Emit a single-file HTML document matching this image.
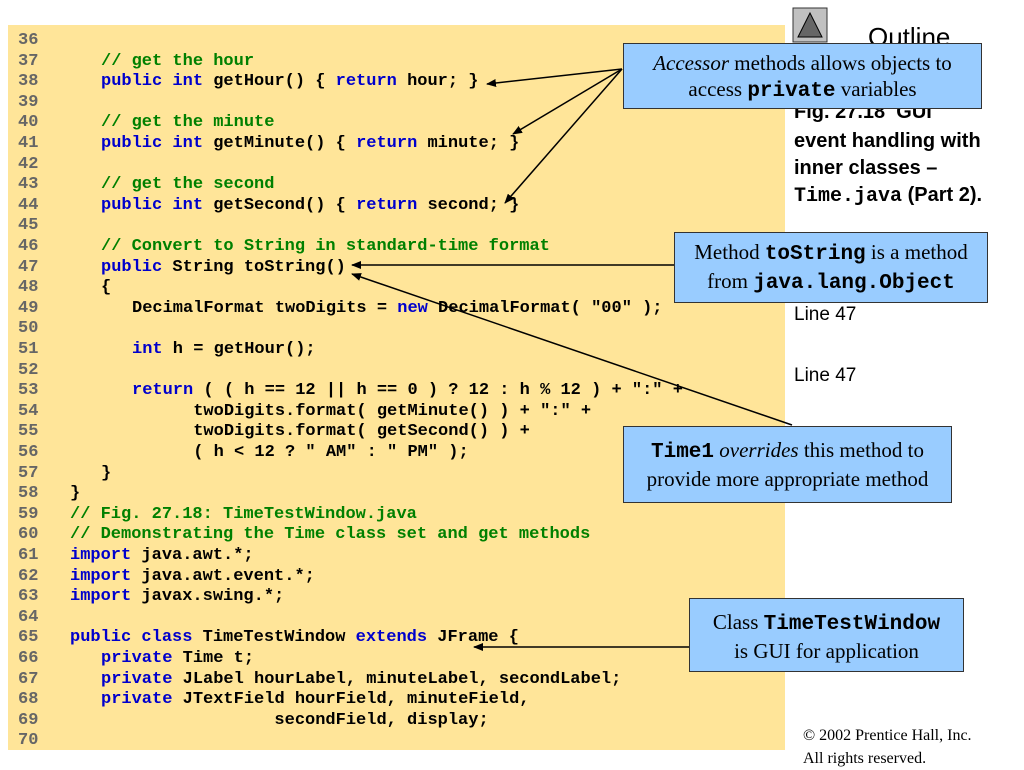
<!DOCTYPE html>
<html><head><meta charset="utf-8"><style>
body{margin:0;width:1024px;height:768px;background:#fff;position:relative;overflow:hidden;font-family:"Liberation Sans",sans-serif}
#panel{position:absolute;left:8px;top:25px;width:777px;height:725px;background:#FFE599}
.l{position:absolute;left:18px;font:bold 17px/20px "Liberation Mono",monospace;white-space:pre;color:#000}
.n{color:#666;position:absolute;left:0}
.c{color:#008000}.k{color:#0000CC}
.box{position:absolute;background:#99CCFF;border:1.5px solid #333;font:21px/26px "Liberation Serif",serif;text-align:center;box-sizing:border-box;padding-top:6px}
.box b{font-family:"Liberation Mono",monospace}
.side{position:absolute;left:794px;font:bold 20px/27px "Liberation Sans",sans-serif}
</style></head><body>
<div id="panel"></div>
<div id="code"></div>
<script>
var L=[
["36",0,""],["37",1,'<span class=c>// get the hour</span>'],
["38",1,'<span class=k>public int</span> getHour() { <span class=k>return</span> hour; }'],
["39",0,""],["40",1,'<span class=c>// get the minute</span>'],
["41",1,'<span class=k>public int</span> getMinute() { <span class=k>return</span> minute; }'],
["42",0,""],["43",1,'<span class=c>// get the second</span>'],
["44",1,'<span class=k>public int</span> getSecond() { <span class=k>return</span> second; }'],
["45",0,""],["46",1,'<span class=c>// Convert to String in standard-time format</span>'],
["47",1,'<span class=k>public</span> String toString()'],["48",1,'{'],
["49",2,'DecimalFormat twoDigits = <span class=k>new</span> DecimalFormat( "00" );'],
["50",0,""],["51",2,'<span class=k>int</span> h = getHour();'],["52",0,""],
["53",2,'<span class=k>return</span> ( ( h == 12 || h == 0 ) ? 12 : h % 12 ) + ":" +'],
["54",2,'      twoDigits.format( getMinute() ) + ":" +'],
["55",2,'      twoDigits.format( getSecond() ) +'],
["56",2,'      ( h &lt; 12 ? " AM" : " PM" );'],
["57",1,'}'],["58",0,'}'],
["59",0,'<span class=c>// Fig. 27.18: TimeTestWindow.java</span>'],
["60",0,'<span class=c>// Demonstrating the Time class set and get methods</span>'],
["61",0,'<span class=k>import</span> java.awt.*;'],["62",0,'<span class=k>import</span> java.awt.event.*;'],
["63",0,'<span class=k>import</span> javax.swing.*;'],["64",0,""],
["65",0,'<span class=k>public class</span> TimeTestWindow <span class=k>extends</span> JFrame {'],
["66",1,'<span class=k>private</span> Time t;'],
["67",1,'<span class=k>private</span> JLabel hourLabel, minuteLabel, secondLabel;'],
["68",1,'<span class=k>private</span> JTextField hourField, minuteField,'],
["69",1,'                 secondField, display;'],["70",0,""]];
var h="";L.forEach(function(r,i){var y=41+i*20.6-10;
h+='<div class=l style="top:'+y.toFixed(1)+'px"><span class=n>'+r[0]+'</span><span style="position:absolute;left:'+(52+r[1]*31)+'px">'+r[2]+'</span></div>';});
document.getElementById("code").innerHTML=h;
</script>
<svg style="position:absolute;left:0;top:0" width="1024" height="768">
<defs><marker id="a" markerWidth="10" markerHeight="8" refX="9" refY="4" orient="auto" markerUnits="userSpaceOnUse"><path d="M0,0L10,4L0,8z" fill="#000"/></marker></defs>
<g stroke="#000" stroke-width="1.5" marker-end="url(#a)">
<line x1="622" y1="69" x2="487" y2="84"/>
<line x1="622" y1="69" x2="513" y2="134"/>
<line x1="622" y1="69" x2="505" y2="203"/>
<line x1="674" y1="265" x2="352" y2="265"/>
<line x1="792" y1="425" x2="352" y2="274"/>
<line x1="689" y1="647" x2="474" y2="647"/>
</g>
<rect x="793" y="8" width="34" height="34" fill="#c0c0c0" stroke="#333"/>
<path d="M798,37 L810,13 L822,37z" fill="#666" stroke="#000"/>
</svg>
<div style="position:absolute;left:868px;top:22px;font:26px 'Liberation Sans',sans-serif">Outline</div>
<div class="side" style="top:99px">Fig. 27.18&nbsp;&nbsp;GUI</div>
<div class="side" style="top:128px">event handling with</div>
<div class="side" style="top:155px">inner classes –</div>
<div class="side" style="top:182px"><span style="font-family:'Liberation Mono',monospace">Time.java</span> (Part 2).</div>
<div style="position:absolute;left:794px;top:304px;font:19px 'Liberation Sans',sans-serif">Line 47</div>
<div style="position:absolute;left:794px;top:365px;font:19px 'Liberation Sans',sans-serif">Line 47</div>
<div class="box" style="left:623px;top:43px;width:359px;height:66px"><i>Accessor</i> methods allows objects to<br>access <b>private</b> variables</div>
<div class="box" style="left:674px;top:232px;width:314px;height:71px">Method <b>toString</b> is a method<br>from <b>java.lang.Object</b></div>
<div class="box" style="left:623px;top:426px;width:329px;height:77px;padding-top:10px"><b>Time1</b> <i>overrides</i> this method to<br>provide more appropriate method</div>
<div class="box" style="left:689px;top:598px;width:275px;height:74px;padding-top:10px">Class <b>TimeTestWindow</b><br>is GUI for application</div>
<div style="position:absolute;left:803px;top:724px;font:16px/23px 'Liberation Serif',serif">© 2002 Prentice Hall, Inc.<br>All rights reserved.</div>
</body></html>
